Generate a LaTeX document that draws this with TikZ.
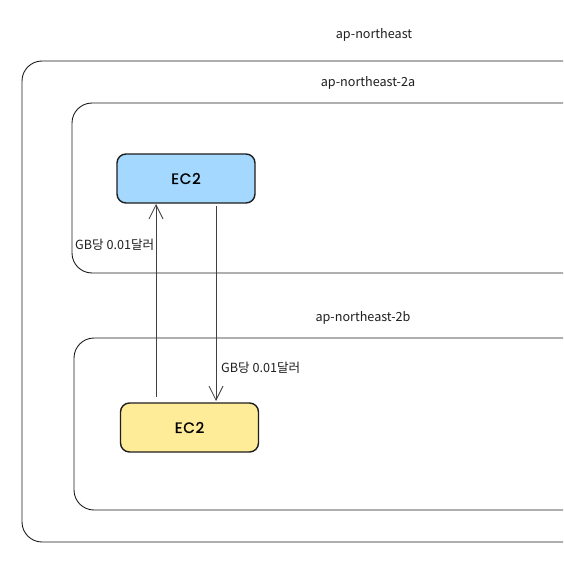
\documentclass[tikz,border=0pt]{standalone}
\usepackage{fontspec}
\setmainfont{Noto Sans CJK KR}
\newfontfamily\ecfont[FakeBold=1.2,LetterSpace=5]{Poppins}
\usetikzlibrary{arrows.meta}
\definecolor{ink}{HTML}{1E1E1E}
\definecolor{ecblue}{HTML}{A5D8FF}
\definecolor{ecyellow}{HTML}{FFEC99}
\tikzset{
  zone/.style={draw=ink, line width=0.9pt, rounded corners=20pt},
  ecbox/.style={draw=ink, line width=1.4pt, rounded corners=9pt, minimum width=138pt, minimum height=49pt, font=\ecfont\fontsize{15}{17}\selectfont, inner sep=0pt},
  lbl/.style={font=\fontsize{12.6}{14}\selectfont, inner sep=0pt, text=ink},
  flow/.style={draw=ink!85, line width=0.8pt, -{Straight Barb[length=14pt,width=14pt,line width=0.8pt]}}
}
\begin{document}
\begin{tikzpicture}[x=1pt,y=-1pt]
\useasboundingbox (0,0) rectangle (563,578);
\clip (0,0) rectangle (563,578);
\fill[white] (0,0) rectangle (563,578);
\draw[zone] (22,61) rectangle (620,542);
\draw[zone] (72,103) rectangle (620,273);
\draw[zone] (74,338) rectangle (620,510);
\node[lbl] (tregion) at (374,35) {ap-northeast};
\node[lbl] (tza) at (368,83) {ap-northeast-2a};
\node[lbl] (tzb) at (363,318) {ap-northeast-2b};
\node[ecbox, fill=ecblue] (ecA) at (186,178.5) {EC2};
\node[ecbox, fill=ecyellow] (ecB) at (189.5,427.5) {EC2};
\coordinate (upS) at (156,397);
\coordinate (upE) at (156,204);
\coordinate (dnS) at (216,206);
\coordinate (dnE) at (216,401);
\draw[flow] (upS) -- (upE);
\draw[flow] (dnS) -- (dnE);
\node[lbl, anchor=west] (costA) at (75,245) {GB당 0.01달러};
\node[lbl, anchor=west] (costB) at (221,368) {GB당 0.01달러};
\end{tikzpicture}
\end{document}
